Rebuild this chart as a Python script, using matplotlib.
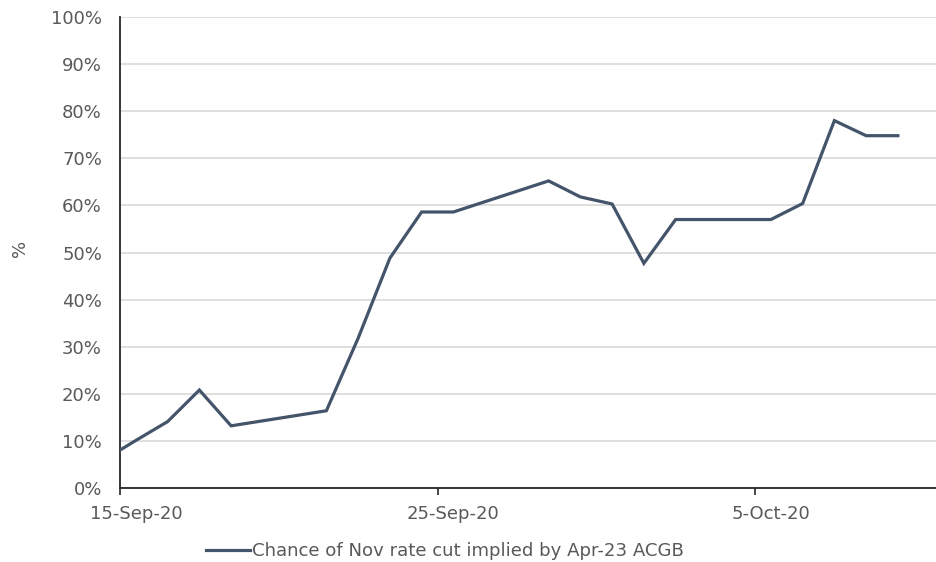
import matplotlib
matplotlib.use("Agg")
import matplotlib.pyplot as plt
import matplotlib.dates as mdates
from matplotlib.ticker import FixedLocator, FuncFormatter, NullFormatter
import pandas as pd

dates = ["2020-09-14", "2020-09-15", "2020-09-16", "2020-09-17", "2020-09-18",
         "2020-09-21", "2020-09-22", "2020-09-23", "2020-09-24", "2020-09-25",
         "2020-09-28", "2020-09-29", "2020-09-30", "2020-10-01", "2020-10-02",
         "2020-10-05", "2020-10-06", "2020-10-07", "2020-10-08", "2020-10-09"]
chance = [6.0, 10.1, 14.1, 20.8, 13.2,
          16.4, 31.8, 48.8, 58.6, 58.6,
          65.2, 61.8, 60.3, 47.7, 57.0,
          57.0, 60.4, 78.0, 74.8, 74.8]
tick_dates = ["2020-09-15", "2020-09-25", "2020-10-05"]
tick_labels = ["15-Sep-20", "25-Sep-20", "5-Oct-20"]
series_name = "Chance of Nov rate cut implied by Apr-23 ACGB"
y_ticks = list(range(0, 101, 10))

text_color = "#595959"
line_color = "#44546A"

plt.rcParams['font.family'] = ['DejaVu Sans']

fig = plt.figure(figsize=(9.36, 5.62), dpi=100)
W, H = 936, 562
left, right, top, bottom = 120, 945.5, 17, 488
ax = fig.add_axes([left / W, 1 - bottom / H, (right - left) / W, (bottom - top) / H])

# Excel-style date axis: each date occupies a day slot, point at slot centre
x = pd.to_datetime(dates) + pd.Timedelta(hours=12)
ax.plot(x, chance, color=line_color, lw=2.3, solid_joinstyle='miter',
        label=series_name, zorder=3)

start = pd.Timestamp("2020-09-15")
ax.set_xlim(mdates.date2num(start), mdates.date2num(pd.Timestamp("2020-10-11")))
ax.set_ylim(0, 100)

major = [mdates.date2num(pd.Timestamp(d)) for d in tick_dates]
minor = [mdates.date2num(pd.Timestamp(d) + pd.Timedelta(hours=12)) for d in tick_dates]
ax.xaxis.set_major_locator(FixedLocator(major))
ax.xaxis.set_major_formatter(NullFormatter())
ax.xaxis.set_minor_locator(FixedLocator(minor))
ax.xaxis.set_minor_formatter(FuncFormatter(lambda v, p: tick_labels[p] if p is not None and p < len(tick_labels) else ""))
ax.tick_params(axis='x', which='major', length=5, width=1.2, color="#262626", direction='out')
ax.tick_params(axis='x', which='minor', length=0, pad=12, labelsize=13, labelcolor=text_color)

ax.set_yticks(y_ticks)
ax.set_yticklabels([f"{v}%" for v in y_ticks])
ax.tick_params(axis='y', length=0, pad=13, labelsize=13, labelcolor=text_color)

ax.grid(axis='y', color="#D9D9D9", lw=1.2, zorder=0)
ax.set_axisbelow(True)
for s in ['top', 'right']:
    ax.spines[s].set_visible(False)
for s in ['left', 'bottom']:
    ax.spines[s].set_color("#262626")
    ax.spines[s].set_linewidth(1.3)

ax.set_ylabel("%", color=text_color, fontsize=13)
ax.yaxis.set_label_coords((29 - left) / (right - left), (bottom - 248) / (bottom - top))

leg = fig.legend(loc='center', bbox_to_anchor=(445 / W, 1 - 551 / H), frameon=False,
                 fontsize=13.1, handlelength=2.4, handletextpad=0.1, labelcolor=text_color)

fig.savefig("out.png", dpi=100)
